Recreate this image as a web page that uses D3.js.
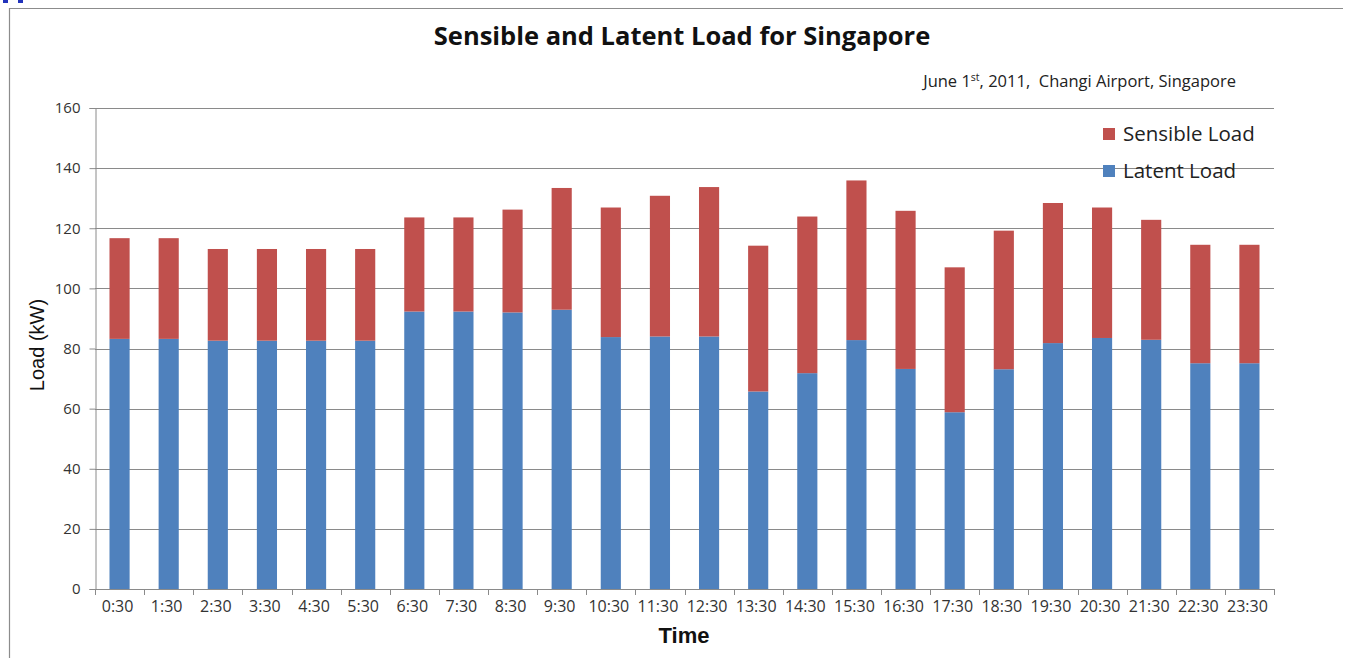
<!DOCTYPE html>
<html>
<head>
<meta charset="utf-8">
<script src="https://cdn.jsdelivr.net/npm/d3@7/dist/d3.min.js"></script>
<style>
  html, body { margin: 0; padding: 0; background: #fff; }
  svg { display: block; }
</style>
</head>
<body>
<svg id="chart" width="1349" height="658"></svg>
<script>
// Hourly loads for Changi Airport, June 1st 2011 (kW)
const times = ["0:30","1:30","2:30","3:30","4:30","5:30","6:30","7:30","8:30","9:30","10:30","11:30",
               "12:30","13:30","14:30","15:30","16:30","17:30","18:30","19:30","20:30","21:30","22:30","23:30"];
const latentLoad = [83.2, 83.2, 82.6, 82.6, 82.6, 82.6, 92.3, 92.3, 92.0, 92.9, 83.8, 84.0,
                    84.0, 65.7, 71.8, 82.8, 73.2, 58.8, 73.1, 81.8, 83.5, 82.9, 75.1, 75.1];
const totalLoad  = [116.7, 116.7, 113.1, 113.1, 113.1, 113.1, 123.6, 123.6, 126.2, 133.4, 126.9, 130.8,
                    133.7, 114.2, 123.9, 135.9, 125.8, 107.0, 119.2, 128.4, 126.9, 122.8, 114.5, 114.5];
const sensibleLoad = totalLoad.map((t, i) => +(t - latentLoad[i]).toFixed(1));
const yTicks = [0, 20, 40, 60, 80, 100, 120, 140, 160];
const seriesNames = ["Sensible Load", "Latent Load"];
const seriesColors = ["#C0504D", "#4F81BD"];

const svg = d3.select("#chart");
const font = "'Open Sans', 'Noto Sans', sans-serif";
const arial = "'Liberation Sans', Arial, sans-serif";

// outer frame
svg.append("line").attr("x1", 9).attr("y1", 8.5).attr("x2", 1343).attr("y2", 8.5)
  .attr("stroke", "#8c8c8c").attr("stroke-width", 1.2);
svg.append("line").attr("x1", 9.5).attr("y1", 8).attr("x2", 9.5).attr("y2", 658)
  .attr("stroke", "#8c8c8c").attr("stroke-width", 1.2);
svg.append("rect").attr("x", 3).attr("y", 0).attr("width", 5).attr("height", 3).attr("fill", "#2233bb");
svg.append("rect").attr("x", 18).attr("y", 0).attr("width", 5).attr("height", 3).attr("fill", "#2233bb");

const x = d3.scaleBand().domain(times).range([95, 1274]).paddingInner(0.59).paddingOuter(0.295);
const y = d3.scaleLinear().domain([0, 160]).range([589, 108]);

// horizontal gridlines
svg.append("g").selectAll("line").data(yTicks.filter(d => d > 0)).join("line")
  .attr("x1", 95).attr("x2", 1274)
  .attr("y1", d => Math.round(y(d)) + 0.5).attr("y2", d => Math.round(y(d)) + 0.5)
  .attr("stroke", "#8a8a8a").attr("stroke-width", 1);

// stacked bars: latent at the bottom, sensible on top
const stackData = times.map((t, i) => ({ time: t, latent: latentLoad[i], sensible: sensibleLoad[i] }));
const stack = d3.stack().keys(["latent", "sensible"])(stackData);
const colorOf = { latent: "#4F81BD", sensible: "#C0504D" };
svg.append("g").selectAll("g").data(stack).join("g")
  .attr("fill", s => colorOf[s.key])
  .selectAll("rect").data(s => s).join("rect")
  .attr("x", d => x(d.data.time))
  .attr("width", x.bandwidth())
  .attr("y", d => y(d[1]))
  .attr("height", d => y(d[0]) - y(d[1]));

// y axis
const yAxis = svg.append("g").attr("transform", "translate(95.5,0)")
  .call(d3.axisLeft(y).tickValues(yTicks).tickSize(6).tickPadding(9));
yAxis.select(".domain").attr("stroke", "#8a8a8a");
yAxis.selectAll(".tick line").attr("stroke", "#8a8a8a");
yAxis.selectAll(".tick text").attr("font-family", font).attr("font-size", 15).attr("fill", "#333");

// x axis: baseline, boundary ticks, and centred labels
const step = x.step();
const bounds = d3.range(times.length + 1).map(i => 95 + i * step);
svg.append("line").attr("x1", 95).attr("x2", 1274).attr("y1", 589.5).attr("y2", 589.5)
  .attr("stroke", "#8a8a8a");
svg.append("g").selectAll("line").data(bounds).join("line")
  .attr("x1", d => Math.round(d) + 0.5).attr("x2", d => Math.round(d) + 0.5)
  .attr("y1", 589).attr("y2", 595).attr("stroke", "#8a8a8a");
const xAxis = svg.append("g").attr("transform", "translate(0,589.5)")
  .call(d3.axisBottom(x).tickSize(0).tickPadding(11));
xAxis.select(".domain").remove();
xAxis.selectAll(".tick text").attr("font-family", font).attr("font-size", 16).attr("fill", "#333")
  .attr("dx", -2);

// titles
svg.append("text").attr("x", 682).attr("y", 45).attr("text-anchor", "middle")
  .attr("font-family", font).attr("font-weight", "bold").attr("font-size", 25.5).attr("fill", "#111")
  .text("Sensible and Latent Load for Singapore");

const sub = svg.append("text").attr("x", 1236).attr("y", 87).attr("text-anchor", "end")
  .attr("font-family", font).attr("font-size", 16.5).attr("fill", "#222");
sub.append("tspan").text("June 1");
sub.append("tspan").attr("font-size", 10.5).attr("dy", -6).text("st");
sub.append("tspan").attr("dy", 6).text(", 2011,\u00a0 Changi Airport, Singapore");

svg.append("text").attr("x", 684).attr("y", 643).attr("text-anchor", "middle")
  .attr("font-family", arial).attr("font-weight", "bold")
  .attr("font-size", 22).attr("fill", "#111").text("Time");

svg.append("text").attr("transform", "translate(44,345) rotate(-90)").attr("text-anchor", "middle")
  .attr("font-family", arial)
  .attr("font-size", 20).attr("fill", "#111").text("Load (kW)");

// legend
const legend = svg.append("g").selectAll("g").data(seriesNames).join("g")
  .attr("transform", (d, i) => `translate(1103,${128 + i * 37})`);
legend.append("rect").attr("width", 12).attr("height", 12).attr("fill", (d, i) => seriesColors[i]);
legend.append("text").attr("x", 20).attr("y", 13)
  .attr("font-family", font).attr("font-size", 20.5).attr("fill", "#222").text(d => d);
</script>
</body>
</html>
